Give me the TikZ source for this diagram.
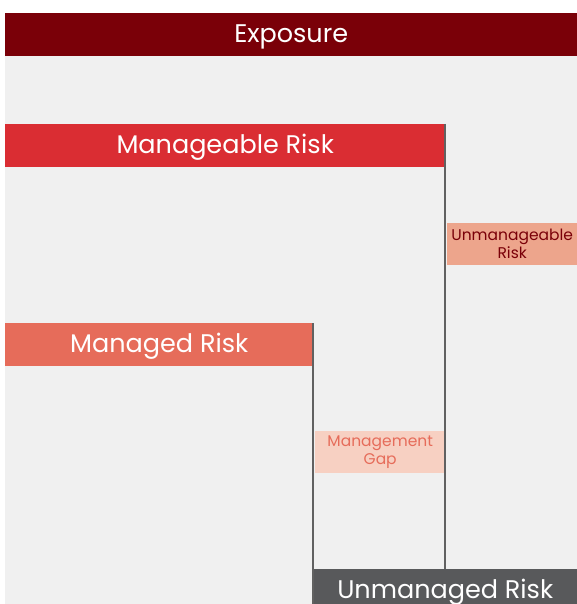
\documentclass[tikz,border=0pt]{standalone}
\usepackage{fontspec}
\setmainfont{Poppins}
\usetikzlibrary{positioning}
\definecolor{ExpoRed}{HTML}{7A0008}
\definecolor{RiskRed}{HTML}{DA2D33}
\definecolor{RiskSalmon}{HTML}{E66C5A}
\definecolor{RiskPeach}{HTML}{EDA58C}
\definecolor{RiskPale}{HTML}{F7D0C2}
\definecolor{RiskGrey}{HTML}{58595B}
\colorlet{panelbg}{black!6}
\colorlet{divider}{black!62}
\tikzset{
  bar/.style={rectangle,anchor=north west,inner sep=0pt,minimum height=43pt,
    text height=16.5pt,text depth=0pt,
    text=white,font=\fontsize{25.5}{27}\selectfont},
  tag/.style={rectangle,anchor=north west,inner sep=0pt,minimum height=42pt,
    align=center,font=\fontsize{15.5}{18}\selectfont},
  divline/.style={divider,line width=2pt}
}

\begin{document}
\begin{tikzpicture}[x=1pt,y=-1pt]
  \useasboundingbox (0,0) rectangle (577,604);
  \clip (0,0) rectangle (577,604);
  \fill[panelbg] (5,56) rectangle (577,604);
  \node[bar,fill=ExpoRed,minimum width=572pt] (expo) at (5,13) {Exposure};
  \node[bar,fill=RiskRed,minimum width=440pt] (mgable) at (5,124) {Manageable Risk};
  \node[bar,fill=RiskSalmon,minimum width=308pt] (mged) at (5,323) {Managed Risk};
  \node[bar,fill=RiskGrey,minimum width=264pt] (unmged) at (313,569) {Unmanaged Risk};
  \node[tag,fill=RiskPeach,text=ExpoRed,minimum width=130pt] (unmgable) at (447,223)
    {Unmanageable\\Risk};
  \node[tag,fill=RiskPale,text=RiskSalmon,minimum width=130pt] (gap) at (315,431)
    {Management\\Gap};
  % dividers
  \draw[divline] (mgable.north east) -- (mgable.east |- unmged.north);
  \draw[divline] (mged.north east) -- (mged.east |- unmged.south);
\end{tikzpicture}
\end{document}
